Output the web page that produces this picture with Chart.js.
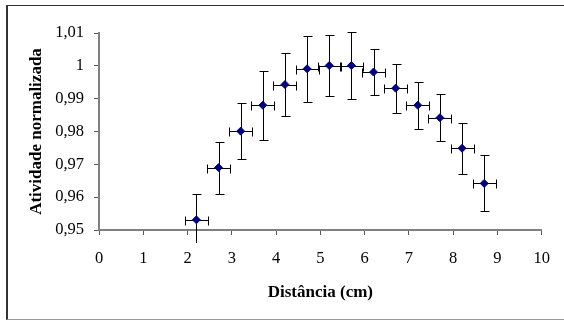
<!DOCTYPE html>
<html><head><meta charset="utf-8">
<script src="https://cdn.jsdelivr.net/npm/chart.js@4/dist/chart.umd.min.js"></script>
<style>
html,body{margin:0;padding:0;background:#fff;}
#wrap{position:relative;width:564px;height:320px;overflow:hidden;}
#frame{position:absolute;left:6px;top:5px;width:640px;height:315px;border-left:2px solid #333;border-top:1px solid #333;border-bottom:1px solid #999;box-sizing:border-box;}
canvas{position:absolute;left:0;top:0;}
</style></head><body>
<div id="wrap"><div id="frame"></div><canvas id="c" width="564" height="320"></canvas></div>
<script>
// Data
const distances   = [2.2, 2.7, 3.2, 3.7, 4.2, 4.7, 5.2, 5.7, 6.2, 6.7, 7.2, 7.7, 8.2, 8.7];
const activity    = [0.9531, 0.9690, 0.9801, 0.9880, 0.9943, 0.9991, 1.0001, 1.0001, 0.9981, 0.9932, 0.9880, 0.9842, 0.9749, 0.9642];
const activityErr = [0.0080, 0.0079, 0.0086, 0.0105, 0.0096, 0.0100, 0.0094, 0.0101, 0.0069, 0.0075, 0.0071, 0.0072, 0.0077, 0.0085];
const distanceErr = [0.26, 0.26, 0.26, 0.26, 0.26, 0.26, 0.26, 0.26, 0.26, 0.26, 0.26, 0.26, 0.26, 0.26];
const xTickLabels = ['0','1','2','3','4','5','6','7','8','9','10'];
const yTickLabels = ['0,95','0,96','0,97','0,98','0,99','1','1,01'];
const xTitle = 'Distância (cm)';
const yTitle = 'Atividade normalizada';

const SERIF = '"Liberation Serif", "Times New Roman", serif';

const errorBars = {
  id: 'errorBars',
  beforeDatasetsDraw(chart) {
    const {ctx, chartArea: a, scales: {x, y}} = chart;
    const cap = 4;
    ctx.save();
    ctx.beginPath();
    ctx.rect(a.left, a.top - 10, a.right - a.left, a.bottom - a.top + 23);
    ctx.clip();
    ctx.strokeStyle = '#000';
    ctx.lineWidth = 1;
    distances.forEach((d, i) => {
      const cx = Math.round(x.getPixelForValue(d)) + 0.5;
      const cy = Math.round(y.getPixelForValue(activity[i])) + 0.5;
      const yt = Math.round(y.getPixelForValue(activity[i] + activityErr[i])) + 0.5;
      const yb = Math.round(y.getPixelForValue(activity[i] - activityErr[i])) + 0.5;
      const xl = Math.round(x.getPixelForValue(d - distanceErr[i])) + 0.5;
      const xr = Math.round(x.getPixelForValue(d + distanceErr[i])) + 0.5;
      ctx.beginPath();
      ctx.moveTo(cx, yt); ctx.lineTo(cx, yb);
      ctx.moveTo(cx - cap, yt); ctx.lineTo(cx + cap + 1, yt);
      ctx.moveTo(cx - cap, yb); ctx.lineTo(cx + cap + 1, yb);
      ctx.moveTo(xl, cy); ctx.lineTo(xr, cy);
      ctx.moveTo(xl, cy - cap); ctx.lineTo(xl, cy + cap + 1);
      ctx.moveTo(xr, cy - cap); ctx.lineTo(xr, cy + cap + 1);
      ctx.stroke();
    });
    ctx.restore();
  }
};

new Chart(document.getElementById('c'), {
  type: 'scatter',
  data: {
    datasets: [{
      data: distances.map((d, i) => ({x: d, y: activity[i]})),
      pointStyle: 'rectRot',
      pointRadius: 4,
      pointHoverRadius: 4,
      backgroundColor: '#000080',
      borderColor: '#000080',
      borderWidth: 1
    }]
  },
  options: {
    responsive: false,
    animation: false,
    events: [],
    layout: {padding: {left: 0, right: 16, top: 33, bottom: 0}},
    plugins: {legend: {display: false}, tooltip: {enabled: false}},
    scales: {
      x: {
        type: 'linear', min: 0, max: 10,
        ticks: {
          stepSize: 1, autoSkip: false, maxRotation: 0, padding: 14, color: '#000',
          font: {family: SERIF, size: 16.5},
          callback: (v) => xTickLabels[Math.round(v)]
        },
        grid: {drawOnChartArea: false, drawTicks: true, tickLength: 5, color: '#555'},
        border: {display: true, color: '#808080', width: 2},
        title: {display: true, text: xTitle, color: '#000',
          font: {family: SERIF, size: 17, weight: 'bold'}, padding: {top: 0, bottom: 17.6}},
        afterFit: (s) => { s.height = 90; }
      },
      y: {
        type: 'linear', min: 0.95, max: 1.01,
        ticks: {
          stepSize: 0.01, padding: 10, color: '#000',
          font: {family: SERIF, size: 16.5},
          callback: (v) => yTickLabels[Math.round((v - 0.95) / 0.01)]
        },
        grid: {drawOnChartArea: false, drawTicks: true, tickLength: 5, color: '#555'},
        border: {display: true, color: '#808080', width: 2},
        title: {display: true, text: yTitle, color: '#000',
          font: {family: SERIF, size: 17, weight: 'bold'}, padding: {top: 26, bottom: 0}},
        afterFit: (s) => { s.width = 99; }
      }
    }
  },
  plugins: [errorBars]
});
</script>
</body></html>
